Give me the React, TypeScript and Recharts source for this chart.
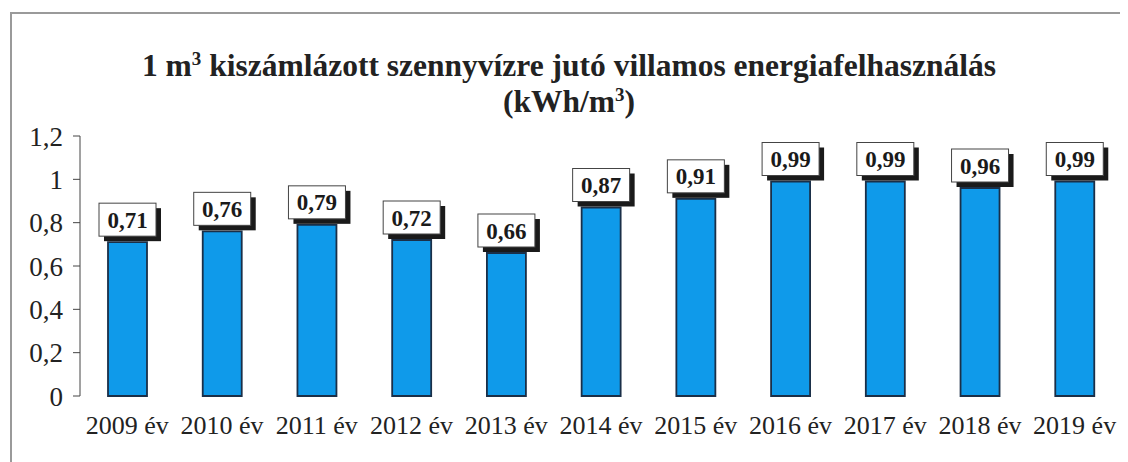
import React from 'react';
import { BarChart, Bar, XAxis, YAxis, LabelList } from 'recharts';

const years = ['2009 év', '2010 év', '2011 év', '2012 év', '2013 év', '2014 év', '2015 év', '2016 év', '2017 év', '2018 év', '2019 év'];
const kwhPerM3 = [0.71, 0.76, 0.79, 0.72, 0.66, 0.87, 0.91, 0.99, 0.99, 0.96, 0.99];
const yTicks = [0, 0.2, 0.4, 0.6, 0.8, 1, 1.2];
const gridTicks = [0, 1, 2, 3, 4, 5, 6, 7, 8, 9, 10, 11];

const chartData = years.map((year, i) => ({ year, value: kwhPerM3[i] }));

const FONT = '"Liberation Serif", "Times New Roman", serif';
const comma = (v: number) => String(v).replace('.', ',');

// white callout box with a dark drop shadow, sitting on top of the bar
const ValueBox = (props: any) => {
  const { x, y, width, value } = props;
  const cx = x + width / 2;
  const w = 57;
  const h = 33;
  const top = y - h - 6;
  return (
    <g>
      <rect x={cx - w / 2 + 5} y={top + 5} width={w} height={h} fill="#1a1a1a" />
      <rect x={cx - w / 2} y={top} width={w} height={h} fill="#fff" stroke="#444" strokeWidth={1} />
      <text
        x={cx}
        y={top + h / 2 + 8}
        textAnchor="middle"
        fontFamily={FONT}
        fontWeight="bold"
        fontSize={23}
        fill="#1a1a1a"
      >
        {comma(value)}
      </text>
    </g>
  );
};

export default function App() {
  return (
    <div style={{ position: 'relative', width: 1120, height: 454, fontFamily: FONT }}>
      <div
        style={{
          position: 'absolute',
          left: 2,
          top: 4,
          width: 1118,
          height: 450,
          borderTop: '2px solid #9a9a9a',
          borderLeft: '2px solid #9a9a9a',
        }}
      />
      <div
        style={{
          position: 'absolute',
          left: 0,
          top: 40,
          width: 1122,
          textAlign: 'center',
          fontWeight: 'bold',
          fontSize: 31.5,
          lineHeight: '36px',
          color: '#222',
        }}
      >
        1 m<sup style={{ fontSize: 19, verticalAlign: 'top', lineHeight: '22px' }}>3</sup> kiszámlázott szennyvízre jutó villamos energiafelhasználás
        <br />
        (kWh/m<sup style={{ fontSize: 19, verticalAlign: 'top', lineHeight: '22px' }}>3</sup>)
      </div>
      <div style={{ position: 'absolute', left: 0, top: 0 }}>
        <BarChart
          width={1120}
          height={454}
          data={chartData}
          margin={{ top: 128, right: 6, bottom: 0, left: 0 }}
        >
          <XAxis
            xAxisId="grid"
            type="number"
            domain={[0, 11]}
            ticks={gridTicks}
            allowDataOverflow
            height={0}
            tickSize={7}
            tickFormatter={() => ''}
            stroke="#444"
          />
          <XAxis
            xAxisId="cat"
            dataKey="year"
            height={66}
            axisLine={false}
            tickLine={false}
            interval={0}
            tick={{ fontSize: 26, fill: '#222', fontFamily: FONT }}
            tickSize={6}
            tickMargin={14}
          />
          <YAxis
            domain={[0, 1.2]}
            ticks={yTicks}
            width={72}
            stroke="#444"
            tickSize={7}
            tickMargin={10}
            tickFormatter={comma}
            tick={{ fontSize: 27, fill: '#222', fontFamily: FONT }}
          />
          <Bar
            xAxisId="cat"
            dataKey="value"
            fill="#0f9aea"
            stroke="#1a2f48"
            strokeWidth={1.8}
            barSize={39}
            isAnimationActive={false}
          >
            <LabelList dataKey="value" content={<ValueBox />} />
          </Bar>
        </BarChart>
      </div>
    </div>
  );
}
